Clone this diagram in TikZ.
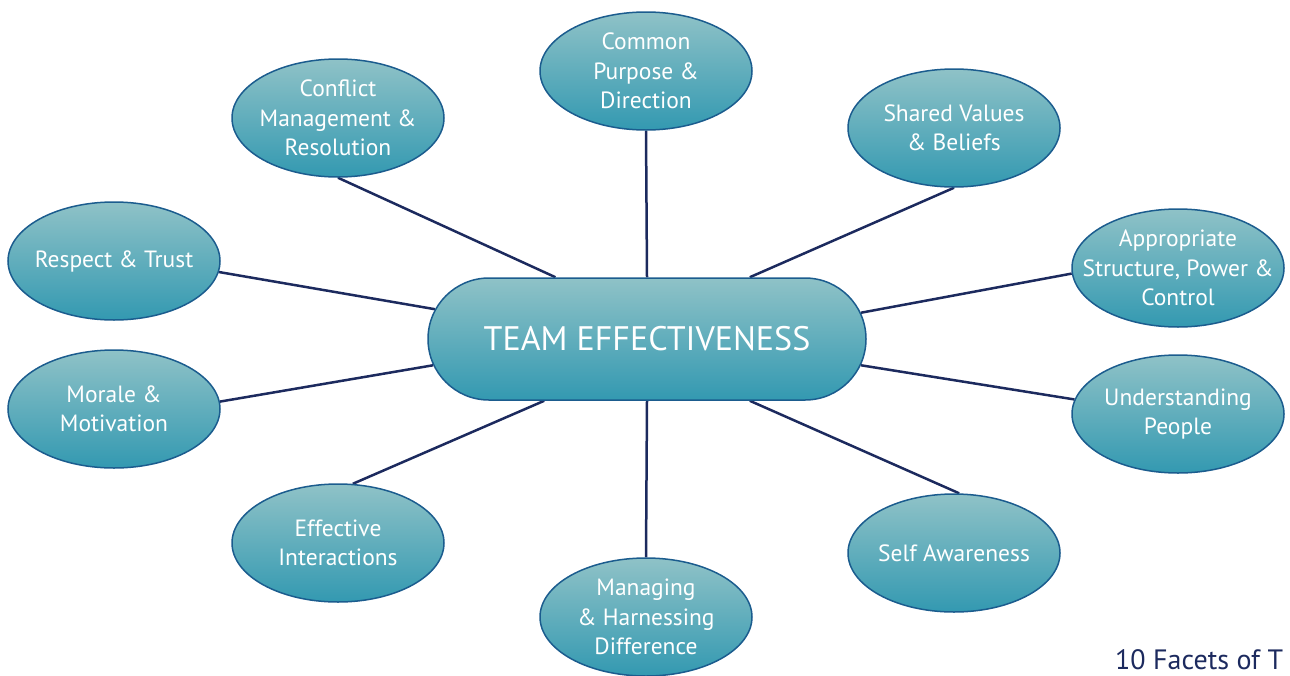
\documentclass[tikz,border=0pt]{standalone}
\usepackage{fontspec}
\setmainfont{PT Sans}
\usetikzlibrary{shapes.geometric, shapes.misc, backgrounds}
\definecolor{facettop}{HTML}{8FC2C7}
\definecolor{facetbot}{HTML}{3399B1}
\definecolor{facetrim}{HTML}{1B5C8E}
\definecolor{spokeblue}{HTML}{1C2A5E}

\begin{document}
\begin{tikzpicture}[x=1pt, y=-1pt,
  facet/.style={ellipse, draw=facetrim, line width=1.5pt, top color=facettop, bottom color=facetbot,
    minimum width=212pt, minimum height=118pt, inner xsep=-40pt, inner ysep=-25pt, text=white, align=center,
    font=\fontsize{23.5}{29.5}\selectfont},
  hub/.style={rounded rectangle, draw=facetrim, line width=1.5pt, top color=facettop, bottom color=facetbot,
    minimum width=438pt, minimum height=122pt, inner sep=0pt, text=white,
    font=\fontsize{34}{40}\selectfont},
  link/.style={draw=spokeblue, line width=2.5pt}]
\useasboundingbox (0,0) rectangle (1290,675);
\node[hub] (team) at (647,339) {TEAM EFFECTIVENESS};
\node[facet] (common) at (646,71) {Common\\Purpose \&\\Direction};
\node[facet] (conflict) at (338,118) {Conflict\\Management \&\\Resolution};
\node[facet] (shared) at (954,128) {Shared Values\\\& Beliefs};
\node[facet] (respect) at (114,261) {Respect \& Trust};
\node[facet] (structure) at (1178,268) {Appropriate\\Structure, Power \&\\Control};
\node[facet] (morale) at (114,409) {Morale \&\\Motivation};
\node[facet] (people) at (1178,414) {Understanding\\People};
\node[facet] (interact) at (338,543) {Effective\\Interactions};
\node[facet] (selfaware) at (954,553) {Self Awareness};
\node[facet] (difference) at (646,617) {Managing\\\& Harnessing\\Difference};
\node[anchor=base west, text=spokeblue, font=\fontsize{28}{32}\selectfont, inner sep=0pt] (caption) at (1115,669) {10 Facets of T};
\begin{scope}[on background layer]
\draw[link] (common.south) -- (team.north);
\draw[link] (conflict.south) -- (team.146);
\draw[link] (shared.south) -- (team.31);
\draw[link] (respect.-6) -- (team.172);
\draw[link] (structure.183) -- (team.7);
\draw[link] (morale.4) -- (team.187);
\draw[link] (people.172) -- (team.353);
\draw[link] (interact.76) -- (team.211);
\draw[link] (selfaware.85) -- (team.329);
\draw[link] (difference.north) -- (team.south);
\end{scope}
\end{tikzpicture}
\end{document}
